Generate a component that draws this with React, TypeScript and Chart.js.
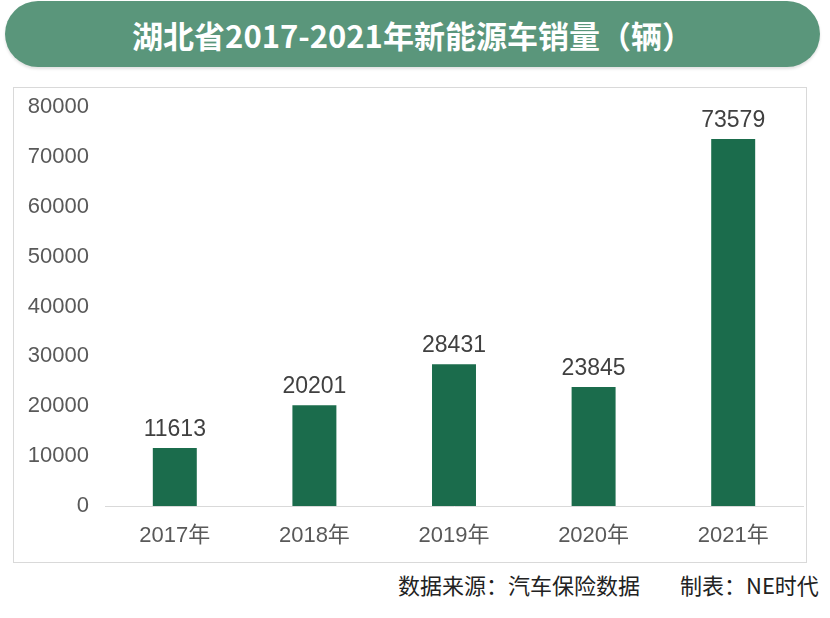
import React, { useEffect, useRef } from "react";
import { Chart, registerables } from "chart.js";

Chart.register(...registerables);

const categories = ["2017年", "2018年", "2019年", "2020年", "2021年"];
const sales = [11613, 20201, 28431, 23845, 73579];
const yTicks = [0, 10000, 20000, 30000, 40000, 50000, 60000, 70000, 80000];

const TITLE = "湖北省2017-2021年新能源车销量（辆）";
const SOURCE = "数据来源：汽车保险数据";
const MAKER = "制表：NE时代";

const NUM_FONT = "'Liberation Sans', Arial, 'Noto Sans CJK SC', sans-serif";

const labelPlugin = {
  id: "barLabels",
  afterDatasetsDraw(chart: any) {
    const ctx = chart.ctx;
    const meta = chart.getDatasetMeta(0);
    ctx.save();
    ctx.font = `23px ${NUM_FONT}`;
    ctx.fillStyle = "#404040";
    ctx.textAlign = "center";
    ctx.textBaseline = "bottom";
    meta.data.forEach((bar: any, i: number) => {
      ctx.fillText(String(sales[i]), bar.x, bar.y - 7);
    });
    ctx.restore();
  },
};

export default function App() {
  const ref = useRef<HTMLCanvasElement>(null);
  useEffect(() => {
    if (!ref.current) return;
    const chart = new Chart(ref.current, {
      type: "bar",
      data: {
        labels: categories,
        datasets: [
          {
            data: sales,
            backgroundColor: "#1b6c4c",
            categoryPercentage: 1,
            barPercentage: 0.315,
          },
        ],
      },
      options: {
        animation: false,
        responsive: false,
        maintainAspectRatio: false,
        layout: { padding: { top: 19, right: 3, left: 0, bottom: 0 } },
        plugins: { legend: { display: false }, tooltip: { enabled: false } },
        scales: {
          x: {
            grid: { display: false, drawTicks: false },
            border: { display: true, color: "#d9d9d9", width: 1 },
            ticks: {
              color: "#595959",
              font: { size: 22, family: NUM_FONT },
              padding: 17,
            },
            afterFit(scale: any) {
              scale.height = 56;
              scale.paddingLeft = 0;
              scale.paddingRight = 0;
            },
          },
          y: {
            min: 0,
            max: 80000,
            grid: { display: false, drawTicks: false },
            border: { display: false },
            afterBuildTicks(scale: any) {
              scale.ticks = yTicks.map((v) => ({ value: v }));
            },
            ticks: {
              color: "#595959",
              font: { size: 22, family: NUM_FONT },
              padding: 16,
              callback: (v: any) => String(v),
            },
            afterFit(scale: any) {
              scale.width = 91;
              scale.paddingTop = 0;
              scale.paddingBottom = 0;
            },
          },
        },
      },
      plugins: [labelPlugin],
    });
    return () => chart.destroy();
  }, []);

  const footStyle: React.CSSProperties = {
    position: "absolute",
    top: 568,
    fontFamily: "'Noto Sans CJK SC', sans-serif",
    fontSize: 22,
    color: "#222222",
    whiteSpace: "pre",
    lineHeight: "32px",
  };

  return (
    <div
      style={{
        position: "fixed",
        left: 0,
        top: 0,
        width: 830,
        height: 618,
        background: "#ffffff",
        overflow: "hidden",
      }}
    >
      <div
        style={{
          position: "absolute",
          left: 5,
          top: 1,
          width: 815,
          height: 66,
          borderRadius: 33,
          background: "#5a967b",
          color: "#ffffff",
          fontFamily: "'Noto Sans CJK SC', sans-serif",
          fontWeight: 700,
          fontSize: 31,
          display: "flex",
          alignItems: "center",
          justifyContent: "center",
          boxShadow: "0 2px 3px rgba(0,0,0,0.12)",
        }}
      >
        {TITLE}
      </div>
      <div
        style={{
          position: "absolute",
          left: 13,
          top: 87,
          width: 792,
          height: 474,
          border: "1px solid #d9d9d9",
        }}
      >
        <canvas ref={ref} width={792} height={474} style={{ display: "block" }} />
      </div>
      <div style={{ ...footStyle, left: 398 }}>{SOURCE}</div>
      <div style={{ ...footStyle, left: 680 }}>{MAKER}</div>
    </div>
  );
}
